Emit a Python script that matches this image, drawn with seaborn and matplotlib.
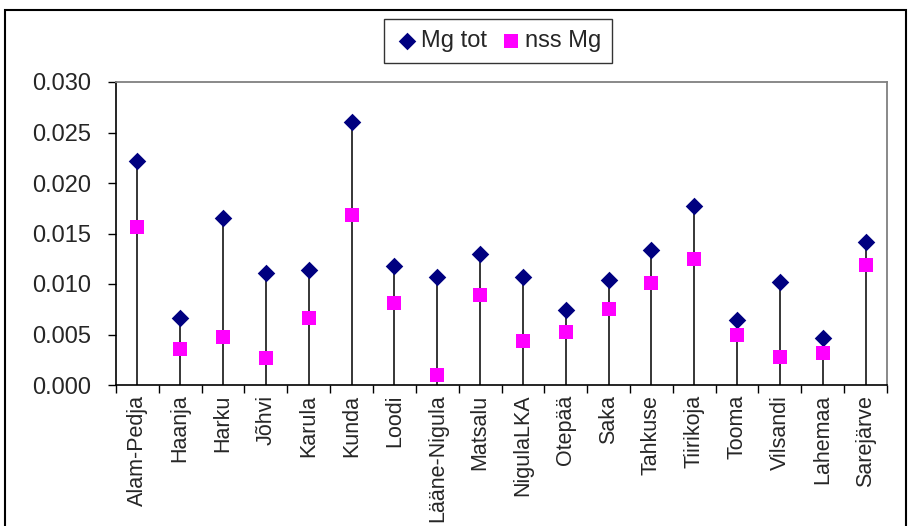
import matplotlib
matplotlib.use("Agg")
import matplotlib.pyplot as plt
import seaborn as sns
import pandas as pd
from matplotlib.patches import Rectangle

sites = ["Alam-Pedja", "Haanja", "Harku", "Jõhvi", "Karula", "Kunda", "Loodi",
         "Lääne-Nigula", "Matsalu", "NigulaLKA", "Otepää", "Saka", "Tahkuse",
         "Tiirikoja", "Tooma", "Vilsandi", "Lahemaa", "Sarejärve"]
mg_tot = [0.0222, 0.0066, 0.0165, 0.0111, 0.0114, 0.0260, 0.0118, 0.0107, 0.0130,
          0.0107, 0.0074, 0.0104, 0.0134, 0.0177, 0.0064, 0.0102, 0.0047, 0.0142]
nss_mg = [0.0156, 0.0036, 0.0048, 0.0027, 0.0066, 0.0168, 0.0081, 0.0010, 0.0089,
          0.0044, 0.0052, 0.0075, 0.0101, 0.0125, 0.0050, 0.0028, 0.0032, 0.0119]
y_ticks = [0.000, 0.005, 0.010, 0.015, 0.020, 0.025, 0.030]

sns.set_style("white")
plt.rcParams['font.family'] = ['Liberation Sans', 'DejaVu Sans']

df = pd.DataFrame({"site": sites, "pos": range(len(sites)),
                   "Mg tot": mg_tot, "nss Mg": nss_mg})

fig = plt.figure(figsize=(9.14, 5.26), dpi=100)
ax = fig.add_axes([116/914, 1-385/526, (887-116)/914, (385-82)/526])

ax.vlines(df["pos"], 0, df["Mg tot"], color="black", linewidth=1.1, zorder=1)
sns.scatterplot(data=df, x="pos", y="Mg tot", ax=ax, marker="D", s=80,
                color="#000080", edgecolor="#000080", linewidth=0, zorder=3,
                label="Mg tot", legend=False)
sns.scatterplot(data=df, x="pos", y="nss Mg", ax=ax, marker="s", s=110,
                color="#FF00FF", edgecolor="#FF00FF", linewidth=0, zorder=3,
                label="nss Mg", legend=False)

ax.set_xlim(-0.5, len(sites) - 0.5)
ax.set_ylim(0, 0.030)
ax.set_yticks(y_ticks)
ax.set_yticklabels([f"{v:.3f}" for v in y_ticks], fontsize=17)
ax.set_xticks([i - 0.5 for i in range(len(sites) + 1)])
ax.set_xticklabels([])
ax.set_xticks(range(len(sites)), minor=True)
ax.set_xticklabels(sites, minor=True, rotation=90, fontsize=15.5)
ax.tick_params(axis="x", which="major", direction="out", length=6, width=1, color="black", bottom=True)
ax.tick_params(axis="x", which="minor", length=0, pad=7)
ax.tick_params(axis="y", direction="out", length=6, width=1, color="black", left=True, pad=12)
ax.set_xlabel("")
ax.set_ylabel("")

for side in ["top", "right"]:
    ax.spines[side].set_color("#808080")
    ax.spines[side].set_linewidth(1.3)
for side in ["left", "bottom"]:
    ax.spines[side].set_color("black")
    ax.spines[side].set_linewidth(1.2)

handles, labels = ax.get_legend_handles_labels()
leg = fig.legend(handles, labels, loc="center", bbox_to_anchor=(498/914, 1-41/526),
                 ncol=2, frameon=True, fancybox=False, edgecolor="black",
                 fontsize=17, handletextpad=0.1, columnspacing=0.5,
                 borderpad=0.45, handlelength=1.0, markerscale=1.0)
leg.get_frame().set_linewidth(1.0)

fig.patches.append(Rectangle((5/914, -0.02), (906-5)/914, 1-10/526 + 0.02,
                             transform=fig.transFigure, fill=False,
                             edgecolor="black", linewidth=1.5))

fig.savefig("out.png", dpi=100)
